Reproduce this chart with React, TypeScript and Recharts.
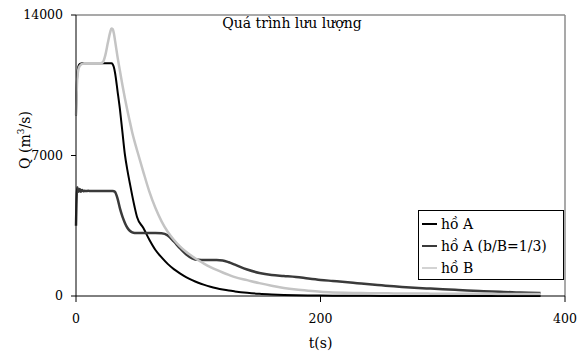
import { LineChart, Line, XAxis, YAxis, Legend, ReferenceLine } from "recharts";

// time (s)
const times = [
  0, 1, 2, 3, 4, 5, 6, 7, 8, 10, 12, 15, 18, 20, 22, 24, 26, 28, 29, 30, 31, 32, 34, 36, 38, 40,
  42, 44, 46, 48, 50, 55, 60, 65, 70, 75, 80, 85, 90, 95, 100, 105, 110, 115, 120, 125, 130,
  140, 150, 160, 170, 180, 190, 200, 210, 220, 230, 240, 250, 260, 270, 280, 290, 300, 310,
  320, 330, 340, 350, 360, 370, 380,
];

// discharge Q (m3/s) for each reservoir case
const lakeA = [
  9000, 11000, 11450, 11550, 11580, 11600, 11600, 11600, 11600, 11600, 11600, 11600, 11600,
  11600, 11600, 11600, 11600, 11600, 11600, 11550, 11400, 11100, 10200, 9270, 8150, 7050,
  6280, 5630, 5000, 4420, 3920, 3400, 2800, 2290, 1920, 1600, 1340, 1130, 945, 790, 660, 555,
  465, 390, 325, 270, 228, 160, 110, 78, 55, 40, 30, 22, 16, 12, 9, 7, 5, 4, 3, 3, 2, 2, 2, 2,
  2, 1, 1, 1, 1, 1,
];

const lakeAThird = [
  3500, 5420, 5190, 5330, 5200, 5280, 5220, 5250, 5230, 5240, 5230, 5230, 5230, 5230, 5230,
  5230, 5230, 5230, 5230, 5230, 5220, 5180, 4850, 4350, 3950, 3640, 3400, 3250, 3170, 3140,
  3140, 3140, 3140, 3140, 3130, 3020, 2720, 2380, 2080, 1880, 1800, 1790, 1790, 1790, 1770,
  1680, 1560, 1320, 1150, 1050, 1000, 950, 870, 800, 750, 700, 640, 580, 530, 480, 440, 400,
  370, 340, 310, 280, 250, 220, 200, 180, 160, 150,
];

const lakeB = [
  9000, 10800, 11300, 11450, 11520, 11560, 11580, 11600, 11600, 11600, 11600, 11600, 11600,
  11600, 11650, 12000, 12600, 13150, 13330, 13300, 13080, 12700, 11900, 11200, 10500, 9850,
  9250, 8700, 8150, 7680, 7250, 6200, 5200, 4380, 3720, 3200, 2800, 2470, 2200, 1980, 1780,
  1600, 1440, 1300, 1170, 1050, 940, 790, 640, 510, 400, 320, 260, 210, 180, 160, 150, 140,
  135, 130, 125, 120, 118, 115, 112, 110, 108, 106, 104, 102, 100, 100,
];

const xTicks = [0, 200, 400];
const yTicks = [0, 7000, 14000];

const series = [
  { key: "a", name: "hồ A", color: "#000000", width: 2 },
  { key: "a3", name: "hồ A (b/B=1/3)", color: "#3a3a3a", width: 2.5 },
  { key: "b", name: "hồ B", color: "#c4c4c4", width: 2.5 },
];

const data = times.map((t, i) => ({ t, a: lakeA[i], a3: lakeAThird[i], b: lakeB[i] }));

const FONT = "'DejaVu Serif', serif";
const FS = 14; // labels, title, legend
const TICK_FS = 12.5; // numeric tick labels

const LegendBox = () => (
  <div
    style={{
      boxSizing: "border-box",
      border: "1px solid #000",
      background: "#fff",
      padding: "2px 3px 2px 3px",
      fontFamily: FONT,
      fontSize: FS,
      color: "#000",
      lineHeight: "22px",
      width: 146,
      height: 70,
    }}
  >
    {series.map((s) => (
      <div key={s.key} style={{ display: "flex", alignItems: "center", whiteSpace: "nowrap" }}>
        <svg width={16} height={10} style={{ marginRight: 3 }}>
          <line x1={0} y1={5} x2={15} y2={5} stroke={s.color} strokeWidth={s.key === "b" ? 1.5 : 2} />
        </svg>
        <span>{s.name}</span>
      </div>
    ))}
  </div>
);

export default function App() {
  return (
    <div style={{ position: "absolute", left: 0, top: 0, background: "#fff" }}>
      <LineChart width={588} height={352} data={data} margin={{ top: 15, right: 23, left: 6, bottom: 0 }}>
        <XAxis
          dataKey="t"
          type="number"
          domain={[0, 400]}
          ticks={xTicks}
          stroke="#000"
          tickSize={6}
          tickMargin={12}
          height={56}
          tick={{ fill: "#000", fontSize: TICK_FS, fontFamily: FONT }}
          label={{ value: "t(s)", position: "insideBottom", offset: 4, fill: "#000", fontSize: FS, fontFamily: FONT }}
        />
        <YAxis
          type="number"
          domain={[0, 14000]}
          ticks={yTicks}
          stroke="#000"
          tickSize={5}
          tickMargin={8}
          width={70}
          tick={{ fill: "#000", fontSize: TICK_FS, fontFamily: FONT }}
        />
        <ReferenceLine y={14000} stroke="#8c8c8c" strokeWidth={1.5} />
        <ReferenceLine x={400} stroke="#8c8c8c" strokeWidth={1.5} />
        {series.map((s) => (
          <Line
            key={s.key}
            dataKey={s.key}
            name={s.name}
            type="monotone"
            stroke={s.color}
            strokeWidth={s.width}
            dot={false}
            isAnimationActive={false}
          />
        ))}
        <Legend
          layout="vertical"
          align="center"
          verticalAlign="middle"
          content={<LegendBox />}
          wrapperStyle={{ left: 418, top: 210, width: "auto" }}
        />
        <text x={292} y={28} textAnchor="middle" fontFamily={FONT} fontSize={FS} fill="#000">
          Quá trình lưu lượng
        </text>
        <text
          x={30}
          y={140}
          transform="rotate(-90, 30, 140)"
          textAnchor="middle"
          fontFamily={FONT}
          fontSize={FS}
          fill="#000"
        >
          {"Q (m"}
          <tspan dy={-6} fontSize={9}>3</tspan>
          <tspan dy={6}>/s)</tspan>
        </text>
      </LineChart>
    </div>
  );
}
